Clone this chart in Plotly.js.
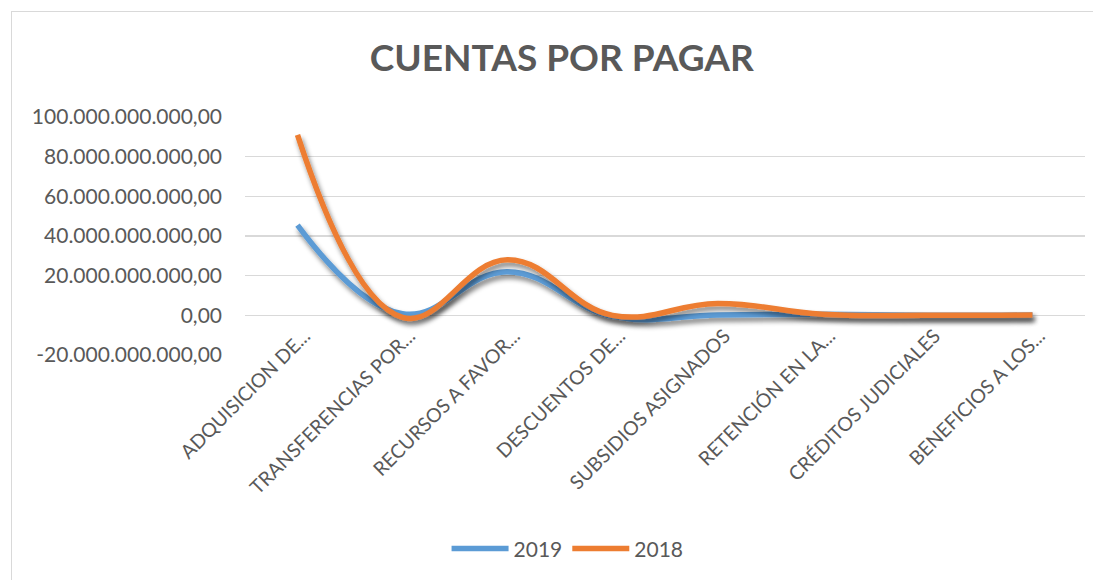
<!DOCTYPE html>
<html>
<head>
<meta charset="utf-8">
<script src="https://cdn.plot.ly/plotly-3.0.1.min.js"></script>
<style>
  html, body { margin: 0; padding: 0; background: #fff; }
  #wrap { position: relative; width: 1093px; height: 580px; overflow: hidden; }
  #chart { position: absolute; left: 0; top: 0; width: 1093px; height: 580px; }
  #frame { position: absolute; left: 11px; top: 11px; width: 1100px; height: 600px;
           border: 1px solid #D9D9D9; pointer-events: none; box-sizing: border-box; }
  .scatterlayer .trace { filter: url(#shadow); }
</style>
</head>
<body>
<svg width="0" height="0" style="position:absolute">
  <defs>
    <filter id="shadow" x="-10%" y="-20%" width="120%" height="160%">
      <feGaussianBlur in="SourceAlpha" stdDeviation="2.5"/>
      <feOffset dx="2" dy="4" result="ob"/>
      <feComponentTransfer><feFuncA type="linear" slope="0.5"/></feComponentTransfer>
      <feMerge><feMergeNode/><feMergeNode in="SourceGraphic"/></feMerge>
    </filter>
  </defs>
</svg>
<div id="wrap">
  <div id="chart"></div>
  <div id="frame"></div>
</div>
<script>
const categories = [
  "ADQUISICION DE...",
  "TRANSFERENCIAS POR...",
  "RECURSOS A FAVOR...",
  "DESCUENTOS DE...",
  "SUBSIDIOS ASIGNADOS",
  "RETENCIÓN EN LA...",
  "CRÉDITOS JUDICIALES",
  "BENEFICIOS A LOS..."
];
const values2019 = [45500000000, 800000000, 22000000000, -500000000, 200000000, 500000000, 0, 200000000];
const values2018 = [91000000000, -1000000000, 28000000000, 0, 6000000000, 500000000, 0, 200000000];
const yTickVals = [-20000000000, 0, 20000000000, 40000000000, 60000000000, 80000000000, 100000000000];

function fmtEs(v) {
  const neg = v < 0;
  const s = Math.abs(Math.round(v)).toString().replace(/\B(?=(\d{3})+(?!\d))/g, ".");
  return (neg ? "-" : "") + s + ",00";
}
const yTickText = yTickVals.map(fmtEs);

const FONT = "Lato, 'Open Sans', sans-serif";
const GREY = "#595959";

const traces = [
  { x: categories, y: values2019, name: "2019", type: "scatter", mode: "lines",
    line: { color: "#5B9BD5", width: 5.5, shape: "spline", smoothing: 1.2 } },
  { x: categories, y: values2018, name: "2018", type: "scatter", mode: "lines",
    line: { color: "#ED7D31", width: 5.5, shape: "spline", smoothing: 1.2 } }
];

const layout = {
  width: 1093, height: 580,
  margin: { l: 245, r: 8, t: 117, b: 225 },
  paper_bgcolor: "rgba(0,0,0,0)", plot_bgcolor: "rgba(0,0,0,0)",
  font: { family: FONT, color: GREY, size: 21 },
  title: { text: "<b>CUENTAS POR PAGAR</b>", font: { family: FONT, size: 37, color: GREY },
           x: 0.514, xref: "container", xanchor: "center", y: 0.9, yref: "container", yanchor: "middle" },
  xaxis: { type: "category", range: [-0.5, 7.5], showgrid: false, zeroline: false, showline: false, ticks: "",
           tickangle: -45, tickfont: { family: FONT, size: 19.5, color: GREY }, fixedrange: true,
           anchor: "free", position: 0.148, ticklabelshift: 7 },
  yaxis: { range: [-20000000000, 100000000000], tickvals: yTickVals, ticktext: yTickText,
           showgrid: true, gridcolor: "#D9D9D9", gridwidth: 1.5, zeroline: false, showline: false,
           ticks: "", tickfont: { family: FONT, size: 21, color: GREY }, ticklabelstandoff: 22 },
  showlegend: true,
  legend: { orientation: "h", x: 0.384, xanchor: "center", y: -0.815, yanchor: "middle",
            font: { family: FONT, size: 21, color: GREY }, itemwidth: 57, traceorder: "normal" }
};

Plotly.newPlot("chart", traces, layout, { displayModeBar: false, staticPlot: true });
</script>
</body>
</html>
